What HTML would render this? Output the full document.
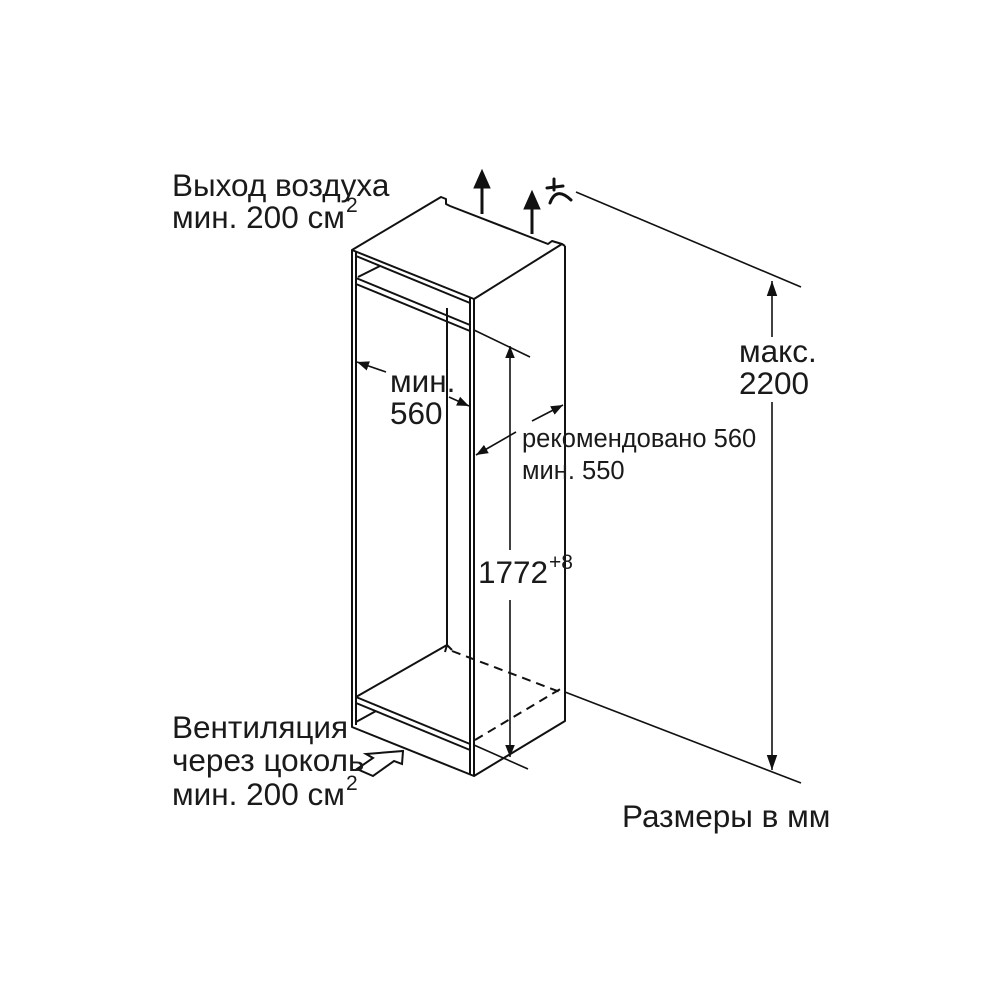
<!DOCTYPE html>
<html><head><meta charset="utf-8"><style>
html,body{margin:0;padding:0;background:#fff;}
svg{display:block}
text{font-family:"Liberation Sans",Arial,sans-serif;fill:#1a1a1a}
</style></head><body>
<svg width="1000" height="1000" viewBox="0 0 1000 1000" xmlns="http://www.w3.org/2000/svg">
<defs>
<marker id="ah" viewBox="0 0 10 10" refX="10" refY="5" markerWidth="12" markerHeight="12" markerUnits="userSpaceOnUse" orient="auto"><path d="M0,1 L10,5 L0,9 z" fill="#111"/></marker>
<marker id="ahb" viewBox="0 0 10 10" refX="10" refY="5" markerWidth="15" markerHeight="15" markerUnits="userSpaceOnUse" orient="auto"><path d="M0,1.5 L10,5 L0,8.5 z" fill="#111"/></marker>
</defs>
<g stroke="#111" stroke-width="2" fill="none" stroke-linejoin="round">
<path d="M352,250 L441,197 L446,199 L446,204 L450,206 L548,244 L552,241 L562,244 L474,299 Z"/>
<path d="M352,250 L352,727 L474,776 L474,299"/>
<path d="M356,252 L356,725"/>
<path d="M470,297 L470,774"/>
<path d="M356,256 L470,303"/>
<path d="M356,278 L470,325"/>
<path d="M356,284 L470,331"/>
<path d="M358,277 L380,266"/>
<path d="M565,246 L565,721 L474,776"/>
<path d="M562,244 L565,246"/>
<path d="M447,308 L447,645"/>
<path d="M356,697 L447,645 L452,650"/>
<path d="M356,697 L470,744"/>
<path d="M356,703 L470,750"/>
<path d="M356,722 L376,711"/>
<path d="M447,645 L445,652"/>
</g>
<g stroke="#111" stroke-width="2" fill="none" stroke-dasharray="9,6">
<path d="M452,651 L560,692"/>
<path d="M475,740 L562,688"/>
</g>
<g stroke="#111" stroke-width="1.6" fill="none">
<path d="M474,330 L530,357"/>
<path d="M474,745 L528,769"/>
<path d="M510,550 L510,346" marker-end="url(#ah)"/>
<path d="M510,600 L510,757" marker-end="url(#ah)"/>
<path d="M576,192 L801,287"/>
<path d="M565,692 L801,783"/>
<path d="M772,337 L772,281" marker-end="url(#ahb)"/>
<path d="M772,402 L772,770" marker-end="url(#ahb)"/>
<path d="M386,372 L357,362" marker-end="url(#ah)"/>
<path d="M449,397 L469,406" marker-end="url(#ah)"/>
<path d="M516,432 L476,455" marker-end="url(#ah)"/>
<path d="M532,421 L563,405" marker-end="url(#ah)"/>
</g>
<g stroke="#111" stroke-width="3" fill="#111">
<path d="M482,214 L482,186"/>
<path d="M474,188 L482,170 L490,188 Z" stroke-width="1"/>
<path d="M532,234 L532,207"/>
<path d="M524,209 L532,191 L540,209 Z" stroke-width="1"/>
</g>
<g stroke="#111" stroke-width="3" fill="none" stroke-linecap="round">
<path d="M554,179 L554,190"/>
<path d="M547,188 L563,186"/>
<path d="M550,203 Q556,186 571,200"/>
</g>
<path d="M357,769 L373,758 L366,754 L403,751 L402,764 L394,761 L373,776 Z" stroke="#111" stroke-width="2" fill="#fff"/>
<text x="172" y="196" font-size="31.5">Выход воздуха</text>
<text x="172" y="228" font-size="31.5">мин. 200 см</text>
<text x="346" y="212" font-size="21">2</text>
<text x="739" y="362" font-size="31.5">макс.</text>
<text x="739" y="394" font-size="31.5">2200</text>
<text x="390" y="392" font-size="31.5">мин.</text>
<text x="390" y="424" font-size="31.5">560</text>
<text x="522" y="447" font-size="25.5">рекомендовано 560</text>
<text x="522" y="479" font-size="25.5">мин. 550</text>
<text x="478" y="583" font-size="31.5">1772</text>
<text x="549" y="569" font-size="21">+8</text>
<text x="172" y="738" font-size="31.5">Вентиляция</text>
<text x="172" y="771" font-size="31.5">через цоколь</text>
<text x="172" y="805" font-size="31.5">мин. 200 см</text>
<text x="346" y="790" font-size="21">2</text>
<text x="622" y="827" font-size="31.5">Размеры в мм</text>
</svg>
</body></html>
